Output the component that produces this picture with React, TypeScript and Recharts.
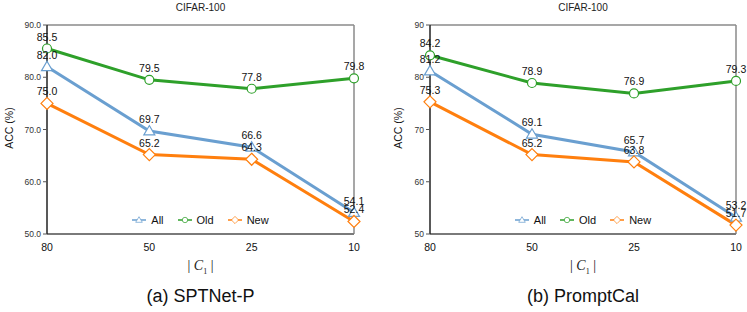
import { LineChart, Line, XAxis, YAxis, LabelList, Legend, ReferenceLine } from "recharts";

const sizes = ["80", "50", "25", "10"];

const sptAll = [82.0, 69.7, 66.6, 54.1];
const sptOld = [85.5, 79.5, 77.8, 79.8];
const sptNew = [75.0, 65.2, 64.3, 52.4];

const pcAll = [81.2, 69.1, 65.7, 53.2];
const pcOld = [84.2, 78.9, 76.9, 79.3];
const pcNew = [75.3, 65.2, 63.8, 51.7];

const yTicks = [50, 60, 70, 80, 90];

const BLUE = "#6a9fd0";
const GREEN = "#2ea02a";
const ORANGE = "#ff7f0e";
const FONT = "'Liberation Sans', Arial, sans-serif";

function Triangle(props: any) {
  const { cx, cy, stroke } = props;
  if (cx == null || cy == null) return null;
  const r = 5.5;
  return (
    <path
      d={`M${cx},${cy - r} L${cx + r},${cy + r * 0.7} L${cx - r},${cy + r * 0.7} Z`}
      fill="#fff"
      stroke={stroke}
      strokeWidth={1.2}
    />
  );
}

function Circle(props: any) {
  const { cx, cy, stroke } = props;
  if (cx == null || cy == null) return null;
  return <circle cx={cx} cy={cy} r={4.5} fill="#fff" stroke={stroke} strokeWidth={1.2} />;
}

function Diamond(props: any) {
  const { cx, cy, stroke } = props;
  if (cx == null || cy == null) return null;
  const r = 6;
  return (
    <path
      d={`M${cx},${cy - r} L${cx + r},${cy} L${cx},${cy + r} L${cx - r},${cy} Z`}
      fill="#fff"
      stroke={stroke}
      strokeWidth={1.2}
    />
  );
}

const series = [
  { key: "all", name: "All", color: BLUE, Shape: Triangle },
  { key: "old", name: "Old", color: GREEN, Shape: Circle },
  { key: "new", name: "New", color: ORANGE, Shape: Diamond },
];

function LegendBox() {
  return (
    <div style={{ display: "flex", justifyContent: "center", gap: 14, fontFamily: FONT, fontSize: 11, color: "#111" }}>
      {series.map(({ key, name, color, Shape }) => (
        <div key={key} style={{ display: "flex", alignItems: "center", gap: 5 }}>
          <svg width={14} height={10}>
            <line x1={0} y1={5} x2={14} y2={5} stroke={color} strokeWidth={1.5} />
            <g transform="translate(7,5) scale(0.6) translate(-7,-5)">
              <Shape cx={7} cy={5} stroke={color} />
            </g>
          </svg>
          <span>{name}</span>
        </div>
      ))}
    </div>
  );
}

type PanelProps = {
  left: number;
  plotLeft: number;
  plotRight: number;
  yLabelX: number;
  all: number[];
  old: number[];
  fresh: number[];
  tickFmt: (v: number) => string;
  caption: string;
};

function Panel({ left, plotLeft, plotRight, yLabelX, all, old, fresh, tickFmt, caption }: PanelProps) {
  const data = sizes.map((s, i) => ({ size: s, all: all[i], old: old[i], new: fresh[i] }));
  const yw = 30;
  const width = 374;
  const center = (plotLeft + plotRight) / 2;
  return (
    <div style={{ position: "absolute", left, top: 0, width, height: 312 }}>
      <div style={{ position: "absolute", top: 2, left: center - 60, width: 120, textAlign: "center", fontFamily: FONT, fontSize: 10, color: "#222" }}>
        CIFAR-100
      </div>
      <div
        style={{
          position: "absolute",
          left: yLabelX - 30,
          top: 122,
          width: 60,
          textAlign: "center",
          transform: "rotate(-90deg)",
          transformOrigin: "center",
          fontFamily: FONT,
          fontSize: 10.5,
          color: "#111",
        }}
      >
        ACC (%)
      </div>
      <LineChart
        width={width}
        height={260}
        data={data}
        margin={{ top: 25, right: width - plotRight, bottom: 6, left: plotLeft - yw }}
        style={{ position: "absolute", left: 0, top: 0 }}
      >
        <XAxis
          dataKey="size"
          height={20}
          axisLine={{ stroke: "#7a7a7a", strokeWidth: 2 }}
          tickLine={false}
          tick={{ fontSize: 10.5, fill: "#111", fontFamily: FONT }}
          tickMargin={4}
        />
        <YAxis
          domain={[50, 90]}
          ticks={yTicks}
          width={yw}
          tickFormatter={tickFmt}
          axisLine={{ stroke: "#222", strokeWidth: 1.5 }}
          tickLine={{ stroke: "#555" }}
          tickSize={4}
          tick={{ fontSize: 8.5, fill: "#333", fontFamily: FONT }}
          interval={0}
        />
        <ReferenceLine y={90} stroke="#8a8a8a" strokeWidth={1.5} />
        <ReferenceLine x="10" stroke="#8a8a8a" strokeWidth={1.5} />
        {series.map(({ key, name, color, Shape }) => (
          <Line
            key={key}
            dataKey={key}
            name={name}
            stroke={color}
            strokeWidth={3}
            dot={<Shape stroke={color} />}
            activeDot={false}
            isAnimationActive={false}
          >
            <LabelList
              dataKey={key}
              position="top"
              offset={8}
              formatter={(v: any) => Number(v).toFixed(1)}
              style={{ fontSize: 10.5, fill: "#111", fontFamily: FONT }}
            />
          </Line>
        ))}
        <Legend
          verticalAlign="middle"
          content={() => <LegendBox />}
          wrapperStyle={{ top: 214, left: plotLeft, width: plotRight - plotLeft }}
        />
      </LineChart>
      <div style={{ position: "absolute", top: 258, left: center - 30, width: 60, textAlign: "center", fontFamily: "'Liberation Serif', serif", fontSize: 14, color: "#222" }}>
        | <i>C</i>
        <sub style={{ fontSize: 8 }}>1</sub> |
      </div>
      <div style={{ position: "absolute", top: 286, left: center - 100, width: 200, textAlign: "center", fontFamily: FONT, fontSize: 18, color: "#111" }}>
        {caption}
      </div>
    </div>
  );
}

export default function App() {
  return (
    <div style={{ position: "absolute", left: 0, top: 0, width: 747, height: 312, background: "#fff" }}>
      <Panel left={0} plotLeft={47} plotRight={354} yLabelX={9} all={sptAll} old={sptOld} fresh={sptNew} tickFmt={(v) => v.toFixed(1)} caption="(a) SPTNet-P" />
      <Panel left={373} plotLeft={57} plotRight={363} yLabelX={25} all={pcAll} old={pcOld} fresh={pcNew} tickFmt={(v) => String(v)} caption="(b) PromptCal" />
    </div>
  );
}
